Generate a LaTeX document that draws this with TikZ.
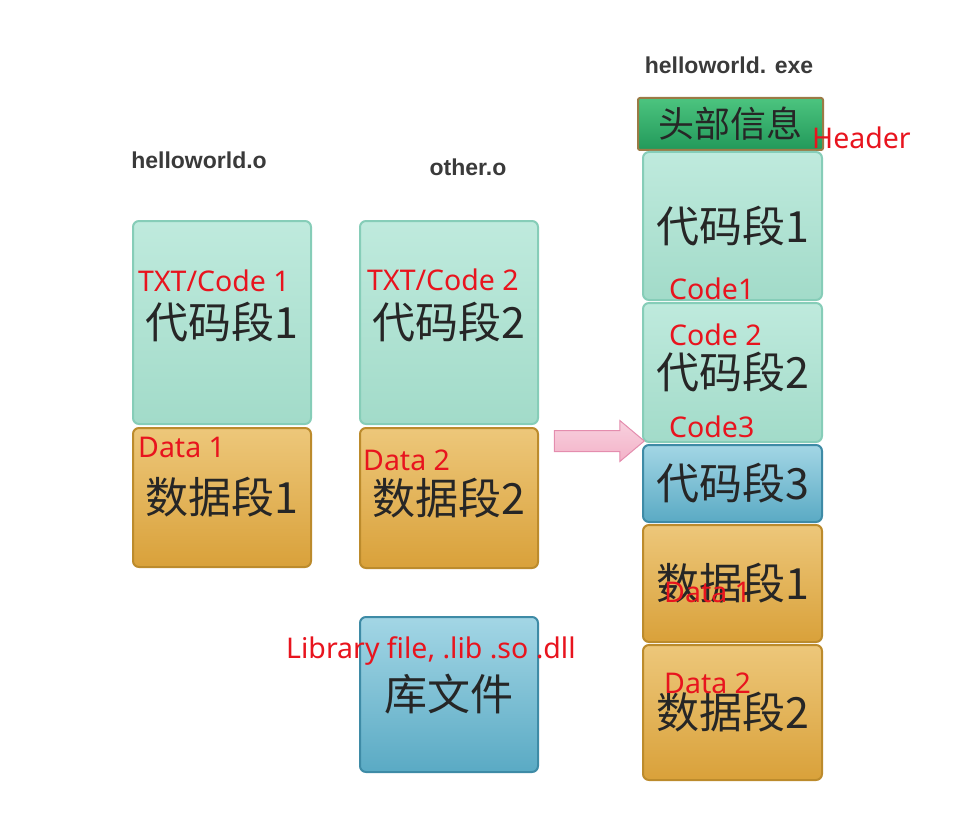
\documentclass[tikz,border=0pt]{standalone}
\usepackage{fontspec}
\newfontfamily\cjk{Noto Sans CJK SC}
\newfontfamily\lblfont{Noto Sans}
\newfontfamily\fnamefont{Liberation Sans}
\usetikzlibrary{shapes.arrows, positioning}
\usepackage{xcolor}

\definecolor{codetop}{HTML}{BFEADD}
\definecolor{codebot}{HTML}{A2DBC9}
\definecolor{codeline}{HTML}{86CDB8}
\definecolor{datatop}{HTML}{EDC77A}
\definecolor{databot}{HTML}{D9A13A}
\definecolor{dataline}{HTML}{BC8B2C}
\definecolor{libtop}{HTML}{A3D6E5}
\definecolor{libbot}{HTML}{5AAAC4}
\definecolor{libline}{HTML}{3E8BA6}
\definecolor{hdrtop}{HTML}{4CC47F}
\definecolor{hdrbot}{HTML}{22995A}
\definecolor{hdrline}{HTML}{9B7A45}
\definecolor{arrpink}{HTML}{F3B2C8}
\definecolor{arrline}{HTML}{E48DAE}
\definecolor{lblred}{HTML}{E8141E}
\definecolor{fname}{HTML}{3A3A3A}

\tikzset{
  seg/.style={draw, line width=2pt, rounded corners=6pt, inner sep=0pt,
    font=\cjk\fontsize{43}{45}\selectfont, text=black!85},
  codebox/.style={seg, draw=codeline, top color=codetop, bottom color=codebot},
  databox/.style={seg, draw=dataline, top color=datatop, bottom color=databot},
  libbox/.style={seg, draw=libline, top color=libtop, bottom color=libbot},
  hdrbox/.style={seg, draw=hdrline, rounded corners=2pt, top color=hdrtop, bottom color=hdrbot,
    font=\cjk\fontsize{36}{38}\selectfont},
  redlbl/.style={anchor=west, inner sep=0pt, text=lblred, font=\lblfont\fontsize{28.5}{30}\selectfont},
  filelbl/.style={inner sep=0pt, text=fname, font=\fnamefont\bfseries\fontsize{23}{25}\selectfont}
}

\begin{document}
\begin{tikzpicture}[x=1pt, y=-1pt]
	\path[use as bounding box] (0,0) rectangle (964,840);

	% object files
	\draw (199,160) node[filelbl] (f1) {helloworld.o}
		(468,167) node[filelbl] (f2) {other.o}
		(729,65) node[filelbl] (f3) {helloworld. exe};

	\draw (222,322.5) node[codebox, minimum width=178pt, minimum height=203pt] (c1) {代码段1}
		(222,497.5) node[databox, minimum width=178pt, minimum height=139pt] (d1) {数据段1}
		(449,322.5) node[codebox, minimum width=178pt, minimum height=203pt] (c2) {代码段2}
		(449,498) node[databox, minimum width=178pt, minimum height=140pt] (d2) {数据段2}
		(449,694.5) node[libbox, minimum width=178pt, minimum height=155pt] (lib) {库文件};

	% executable
	\draw (730.5,124) node[hdrbox, minimum width=185pt, minimum height=52pt] (hdr) {头部信息}
		(732.5,226) node[codebox, minimum width=179pt, minimum height=148pt] (ec1) {代码段1}
		(732.5,372.5) node[codebox, minimum width=179pt, minimum height=139pt] (ec2) {代码段2}
		(732.5,483.5) node[libbox, minimum width=179pt, minimum height=77pt] (ec3) {代码段3}
		(732.5,583.5) node[databox, minimum width=179pt, minimum height=117pt] (ed1) {数据段1}
		(732.5,712.5) node[databox, minimum width=179pt, minimum height=135pt] (ed2) {数据段2};

	\node[single arrow, draw=arrline, line width=1pt, top color=arrpink!60, bottom color=arrpink,
		minimum height=90pt, single arrow head extend=10pt,
		single arrow tip angle=80, inner xsep=0pt, inner ysep=10pt] (arr) at (593,441) {};

	% annotations
	\node[redlbl] (t1) at (138,281) {TXT/Code 1};
	\node[redlbl] (t2) at (367,280) {TXT/Code 2};
	\node[redlbl] (t3) at (138,447) {Data 1};
	\node[redlbl] (t4) at (363,460) {Data 2};
	\node[redlbl] (t5) at (286,651) {Library file, .lib .so .dll};
	\node[redlbl] (t6) at (812,138) {Header};
	\node[redlbl] (t7) at (669,289) {Code1};
	\node[redlbl] (t8) at (669,335) {Code 2};
	\node[redlbl] (t9) at (669,427) {Code3};
	\node[redlbl] (t10) at (664,592) {Data 1};
	\node[redlbl] (t11) at (664,683) {Data 2};
\end{tikzpicture}
\end{document}
